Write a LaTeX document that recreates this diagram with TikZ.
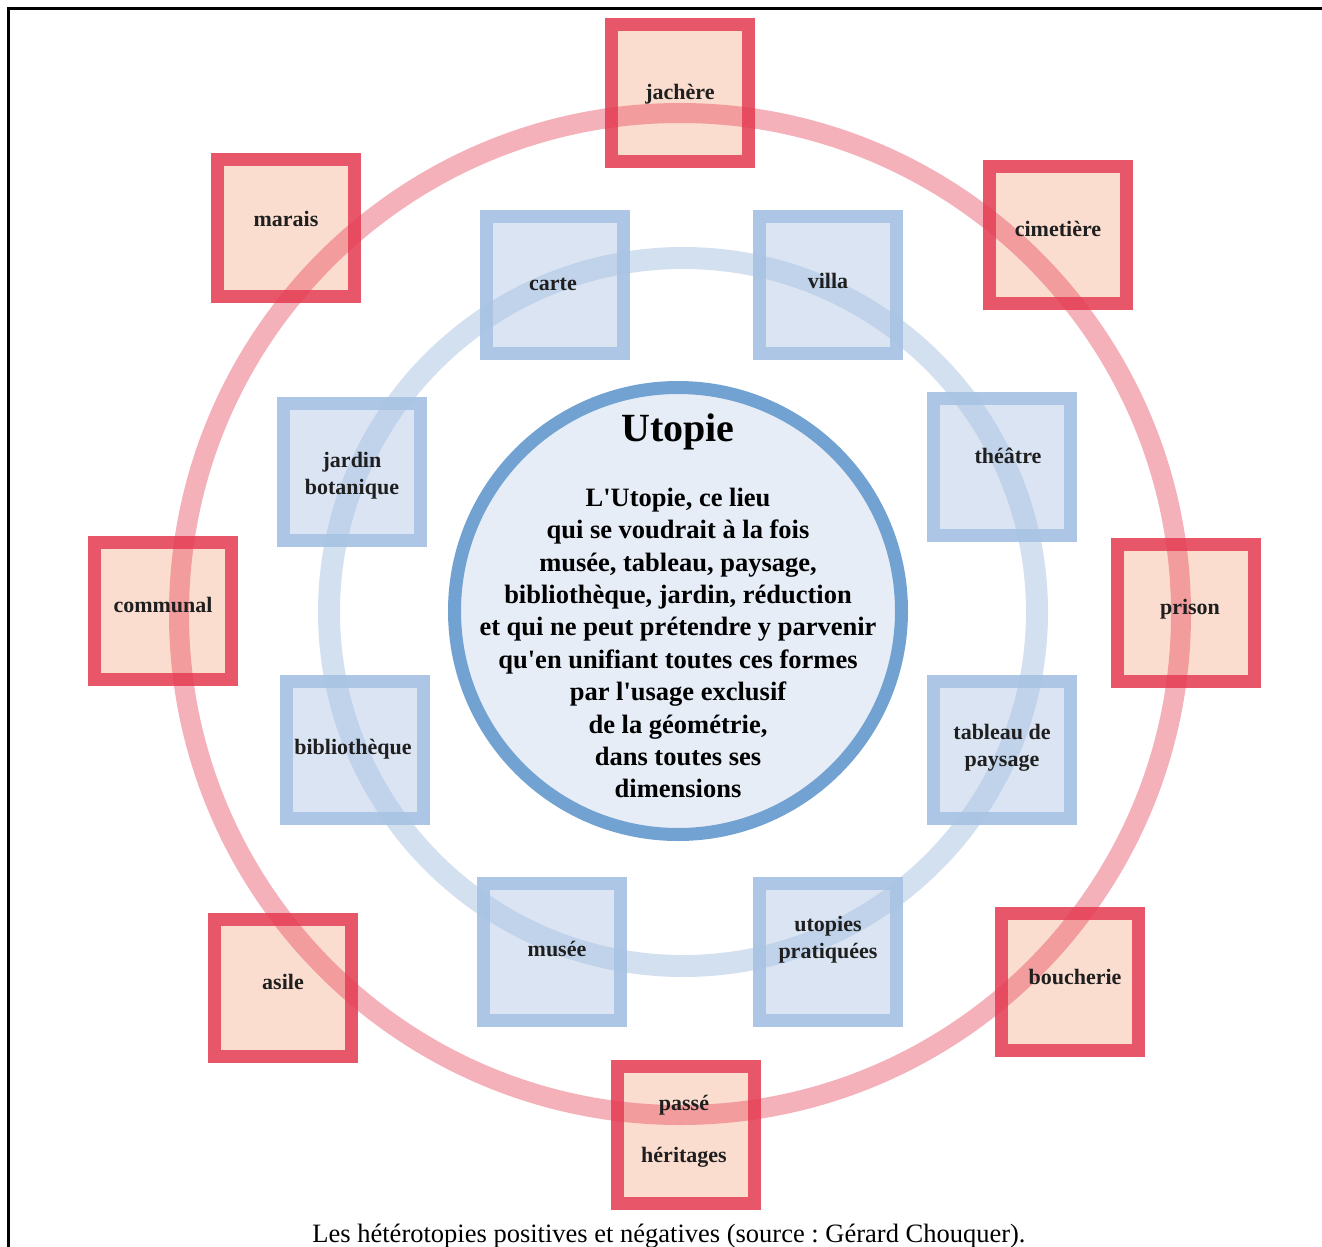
\documentclass[tikz,border=0pt]{standalone}
\usepackage{fontspec}
\setmainfont{Liberation Serif}
\definecolor{redline}{HTML}{E8566A}
\definecolor{redfill}{HTML}{FBDDD0}
\definecolor{ringred}{HTML}{E63C52}
\definecolor{blueline}{HTML}{ADC6E5}
\definecolor{bluefill}{HTML}{DAE4F3}
\definecolor{ringblue}{HTML}{A9C3E3}
\definecolor{coreline}{HTML}{72A2D2}
\definecolor{corefill}{HTML}{E6EDF7}
\newcommand{\apo}{\textquotesingle}
\begin{document}
\frenchspacing
\begin{tikzpicture}[x=1pt,y=-1pt,
  redbox/.style={draw=redline, fill=redfill, line width=13pt, minimum size=137pt, inner sep=0pt},
  bluebox/.style={draw=blueline, fill=bluefill, line width=13pt, minimum size=137pt, inner sep=0pt},
  lbl/.style={font=\bfseries\fontsize{22}{27}\selectfont, align=center, text=black!88},
  ringr/.style={draw=ringred, line width=20pt, draw opacity=0.4},
  ringb/.style={draw=ringblue, line width=22pt, draw opacity=0.5}]
\useasboundingbox (0,0) rectangle (1322,1247);
\fill[white] (0,0) rectangle (1322,1247);
\draw[line width=3pt] (8,1247) -- (8,9) -- (1322,9);

% red boxes
\node[redbox] (jachere) at (680,93) {};
\node[redbox] (marais) at (286,228) {};
\node[redbox] (cimetiere) at (1058,235) {};
\node[redbox] (communal) at (163,611) {};
\node[redbox] (prison) at (1186,613) {};
\node[redbox] (asile) at (283,988) {};
\node[redbox] (boucherie) at (1070,982) {};
\node[redbox] (passe) at (686,1135) {};

% blue boxes
\node[bluebox] (carte) at (555,285) {};
\node[bluebox] (villa) at (828,285) {};
\node[bluebox] (jardin) at (352,472) {};
\node[bluebox] (theatre) at (1002,467) {};
\node[bluebox] (biblio) at (355,750) {};
\node[bluebox] (tableau) at (1002,750) {};
\node[bluebox] (musee) at (552,952) {};
\node[bluebox] (utopies) at (828,952) {};

% rings
\draw[ringr] (680,614) circle[radius=501];
\draw[ringb] (683,612) circle[radius=354];

% core
\node[circle, draw=coreline, fill=corefill, line width=13pt, minimum size=447pt, inner sep=0pt] (core) at (678,611) {};
\node[font=\bfseries\fontsize{40}{42}\selectfont] (title) at (678,432) {Utopie};
\node[font=\bfseries\fontsize{26.5}{32.4}\selectfont, align=center] (body) at (678,643) {L\apo Utopie, ce lieu\\qui se voudrait à la fois\\musée, tableau, paysage,\\bibliothèque, jardin, réduction\\et qui ne peut prétendre y parvenir\\qu\apo en unifiant toutes ces formes\\par l\apo usage exclusif\\de la géométrie,\\dans toutes ses\\dimensions};

% labels
\node[lbl] (tjachere) at (680,94) {jachère};
\node[lbl] (tmarais) at (286,219) {marais};
\node[lbl] (tcimetiere) at (1058,229) {cimetière};
\node[lbl] (tcommunal) at (163,605) {communal};
\node[lbl] (tprison) at (1190,609) {prison};
\node[lbl] (tasile) at (283,982) {asile};
\node[lbl] (tboucherie) at (1075,977) {boucherie};
\node[lbl] (tpasse) at (684,1105) {passé};
\node[lbl] (theritages) at (684,1157) {héritages};

\node[lbl] (tcarte) at (553,284) {carte};
\node[lbl] (tvilla) at (828,281) {villa};
\node[lbl] (tjardin) at (352,476) {jardin\\botanique};
\node[lbl] (ttheatre) at (1008,456) {théâtre};
\node[lbl] (tbiblio) at (353,749) {bibliothèque};
\node[lbl] (ttableau) at (1002,748) {tableau de\\paysage};
\node[lbl] (tmusee) at (557,949) {musée};
\node[lbl] (tutopies) at (828,940) {utopies\\pratiquées};

% caption
\node[font=\fontsize{26.5}{28}\selectfont] (caption) at (669,1236) {Les hétérotopies positives et négatives (source : Gérard Chouquer).};
\end{tikzpicture}
\end{document}
